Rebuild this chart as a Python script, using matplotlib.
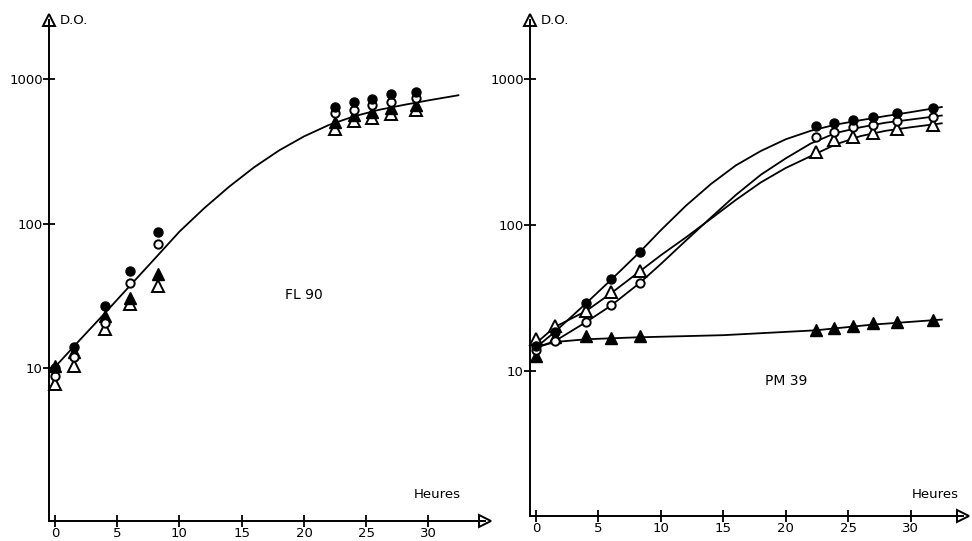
import numpy as np
from matplotlib import pyplot as plt
from matplotlib.ticker import FixedLocator, NullLocator

# ---- FL 90 (left panel) ----
t_left = [0, 1.5, 4, 6, 8.3, 22.5, 24, 25.5, 27, 29]
fc_left = [10, 14, 26.8, 47, 88, 640, 690, 730, 780, 810]   # filled circles
oc_left = [8.8, 12, 20.7, 39, 72.6, 580, 610, 660, 690, 740]  # open circles
ft_left = [10.3, 12.9, 22.8, 30.8, 44.5, 505, 560, 590, 630, 660]  # filled triangles
ot_left = [7.8, 10.3, 18.6, 27.6, 36.8, 450, 510, 540, 570, 610]  # open triangles

fit_t_left = [0, 2, 4, 6, 8, 10, 12, 14, 16, 18, 20, 22, 24, 26, 28, 30, 32.4]
fit_left = [10.2, 15.7, 24, 37, 57, 88, 128, 180, 245, 320, 400, 480, 550, 610, 660, 710, 770]

# ---- PM 39 (right panel) ----
t_right = [0, 1.5, 4, 6, 8.3, 22.4, 23.9, 25.4, 27, 28.9, 31.8]
fc_right = [14.8, 18.4, 29, 42.5, 65, 471, 501, 518, 550, 585, 635]
oc_right = [14, 16, 21.6, 28.2, 39.9, 397, 434, 464, 485, 510, 550]
ot_right = [16.5, 20.3, 25.7, 34.6, 48, 313, 383, 402, 428, 455, 485]
ft_right = [12.7, 17, 17.3, 16.8, 17.3, 19, 19.7, 20.3, 21.3, 21.6, 22.3]

fit_t_right = [0, 1.5, 4, 6, 8.3, 10, 12, 14, 16, 18, 20, 22, 24, 26, 28, 30, 32.5]
fit_fc_right = [14.5, 18.5, 29, 42, 65, 92, 135, 190, 255, 320, 385, 440, 485, 520, 555, 590, 640]
fit_ot_right = [15.5, 20, 25.7, 34, 48, 62, 82, 110, 148, 195, 245, 295, 355, 405, 440, 465, 495]
fit_oc_right = [14.5, 16, 21.6, 28, 40, 54, 78, 112, 160, 220, 285, 360, 425, 465, 500, 525, 560]
fit_t_ft = [0, 1.5, 4, 8, 15, 22.4, 27, 32.5]
fit_ft_right = [14.5, 15.8, 16.5, 17, 17.6, 19, 20.8, 22.5]

xticks = [0, 5, 10, 15, 20, 25, 30]
yticks = [10, 100, 1000]

W, H = 972, 541
fig = plt.figure(figsize=(W / 100, H / 100), dpi=100)
plt.rcParams['font.family'] = ['DejaVu Sans']


def make_axes(x0, x1, y0, y1, xlim, ylim, heures_x, heures_y):
    ax = fig.add_axes([x0 / W, 1 - y0 / H, (x1 - x0) / W, (y0 - y1) / H])
    ax.set_yscale('log')
    ax.set_xlim(xlim)
    ax.set_ylim(ylim)
    for s in ['top', 'right']:
        ax.spines[s].set_visible(False)
    for s in ['left', 'bottom']:
        ax.spines[s].set_linewidth(1.4)
    ax.xaxis.set_major_locator(FixedLocator(xticks))
    ax.yaxis.set_major_locator(FixedLocator(yticks))
    ax.yaxis.set_minor_locator(NullLocator())
    ax.set_xticklabels([str(v) for v in xticks])
    ax.set_yticklabels([str(v) for v in yticks])
    ax.tick_params(direction='inout', length=9, width=1.3, labelsize=9.5)
    ax.tick_params(axis='x', pad=0)
    ax.tick_params(axis='y', pad=0)
    # arrow heads at the axis ends
    ax.plot([0], [1], marker='^', ms=8, mfc='white', mec='black', mew=1.4,
            transform=ax.transAxes, clip_on=False)
    ax.plot([1], [0], marker='>', ms=8, mfc='white', mec='black', mew=1.4,
            transform=ax.transAxes, clip_on=False)
    ax.text(0.025, 1.0, 'D.O.', transform=ax.transAxes, fontsize=9.5, va='center', ha='left')
    ax.text(heures_x, heures_y, 'Heures', transform=ax.transAxes, fontsize=9.5,
            va='center', ha='center')
    return ax


def draw_points(ax, t, fc, oc, ft, ot):
    kw = dict(ls='none', clip_on=False, zorder=3)
    ax.plot(t, ot, marker='^', ms=8.5, mfc='white', mec='black', mew=1.4, **kw)
    ax.plot(t, ft, marker='^', ms=8.5, mfc='black', mec='black', **kw)
    ax.plot(t, oc, marker='o', ms=6, mfc='white', mec='black', mew=1.4, **kw)
    ax.plot(t, fc, marker='o', ms=6.5, mfc='black', mec='black', **kw)


# left panel
ax1 = make_axes(49, 485, 521, 20, (-0.48, 34.54), (0.88, 2550), 0.89, 0.052)
ax1.plot(fit_t_left, fit_left, color='black', lw=1.3)
draw_points(ax1, t_left, fc_left, oc_left, ft_left, ot_left)
ax1.text(20, 32, 'FL 90', fontsize=10, ha='center', va='center')

# right panel
ax2 = make_axes(530, 963, 516, 20, (-0.48, 34.2), (1.02, 2520), 0.935, 0.044)
ax2.plot(fit_t_right, fit_fc_right, color='black', lw=1.3)
ax2.plot(fit_t_right, fit_ot_right, color='black', lw=1.3)
ax2.plot(fit_t_right, fit_oc_right, color='black', lw=1.3)
ax2.plot(fit_t_ft, fit_ft_right, color='black', lw=1.3)
draw_points(ax2, t_right, fc_right, oc_right, ft_right, ot_right)
ax2.text(20, 8.5, 'PM 39', fontsize=10, ha='center', va='center')

fig.savefig('out.png', dpi=100)
